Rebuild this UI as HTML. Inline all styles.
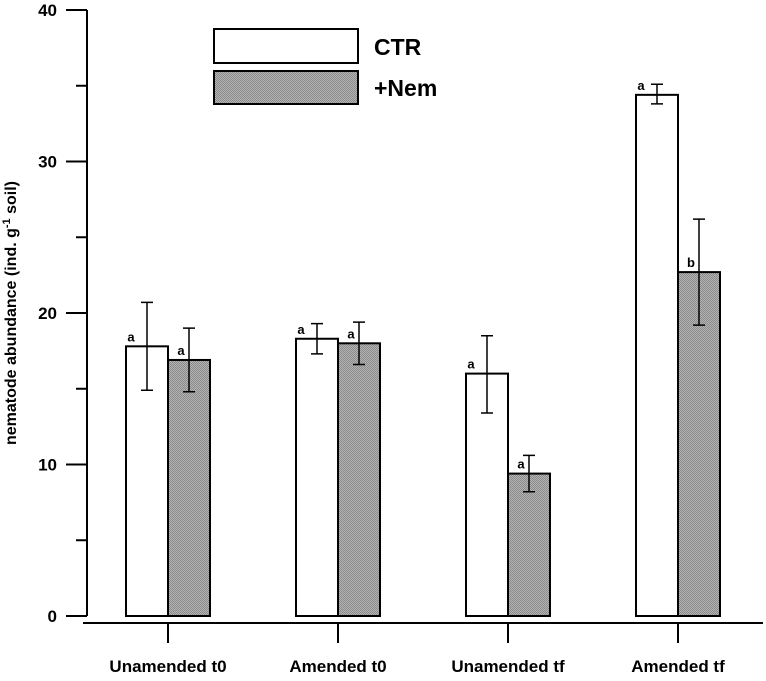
<!DOCTYPE html>
<html><head><meta charset="utf-8"><style>
body{margin:0;background:#fff;}
svg{display:block;font-family:"Liberation Sans",Arial,sans-serif;font-weight:bold;}
</style></head><body>
<svg id="chart" width="766" height="681">
<defs><pattern id="hatch" width="2" height="2" patternUnits="userSpaceOnUse"><rect width="2" height="2" fill="#b4b4b4"/><rect width="1" height="1" fill="#8a8a8a"/><rect x="1" y="1" width="1" height="1" fill="#8a8a8a"/></pattern></defs>
<g id="marks"></g>
</svg>
<script>
const categories=["Unamended t0","Amended t0","Unamended tf","Amended tf"];
const ctrValues=[17.8,18.3,16.0,34.4];
const ctrLow=[14.9,17.3,13.4,33.8];
const ctrHigh=[20.7,19.3,18.5,35.1];
const nemValues=[16.9,18.0,9.4,22.7];
const nemLow=[14.8,16.6,8.2,19.2];
const nemHigh=[19.0,19.4,10.6,26.2];
const ctrLetters=["a","a","a","a"];
const nemLetters=["a","a","a","b"];
const yTicks=[0,10,20,30,40];

const NS="http://www.w3.org/2000/svg";
const g=document.getElementById('marks');
const y0=616,ppu=(616-10)/40,axX=87,BW=42;
function Y(v){return y0-v*ppu;}
function X(i){return 168+i*170;}
function mk(t,a){const e=document.createElementNS(NS,t);for(const k in a)e.setAttribute(k,a[k]);g.appendChild(e);return e;}

let ax=mk('line',{x1:axX,y1:10,x2:axX,y2:y0,stroke:'#000','stroke-width':2});


ax=mk('line',{x1:83,y1:623,x2:763,y2:623,stroke:'#000','stroke-width':2});


yTicks.forEach(t=>{
  let l=mk('line',{x1:66,y1:Y(t),x2:axX,y2:Y(t),stroke:'#000','stroke-width':2});
  
  
  let tx=mk('text',{x:57,y:Y(t)+6,'text-anchor':'end','font-size':17});
  tx.textContent=t;
  
  
});
for(let v=5;v<40;v+=10){let l=mk('line',{x1:76,y1:Y(v),x2:axX,y2:Y(v),stroke:'#000','stroke-width':2});

}
let yt=mk('text',{x:0,y:0,'text-anchor':'middle','font-size':16,transform:'translate(16,313) rotate(-90)'});
yt.innerHTML='nematode abundance (ind. g<tspan dy="-6" font-size="11">-1</tspan><tspan dy="6"> soil)</tspan>';



function bar(x,v,lo,hi,fill,letter,name,off){
  let r=mk('rect',{x:x,y:Y(v),width:BW,height:y0-Y(v),fill:fill,stroke:'#000','stroke-width':2});
  
  
  const cx=x+BW/2;
  let e=mk('path',{d:`M${cx},${Y(hi)}V${Y(lo)}M${cx-6},${Y(hi)}H${cx+6}M${cx-6},${Y(lo)}H${cx+6}`,stroke:'#000','stroke-width':1.5,fill:'none'});
  
  
  let t=mk('text',{x:cx+off,y:Y(v)-5,'text-anchor':'middle','font-size':13});
  t.textContent=letter;
  
  
}
categories.forEach((c,i)=>{
  const cx=X(i);
  bar(cx-BW,ctrValues[i],ctrLow[i],ctrHigh[i],'#fff',ctrLetters[i],'ctr-bar-'+(i+1),-16);
  bar(cx,nemValues[i],nemLow[i],nemHigh[i],'url(#hatch)',nemLetters[i],'nem-bar-'+(i+1),-8);
  let l=mk('line',{x1:cx,y1:623,x2:cx,y2:643,stroke:'#000','stroke-width':2});
  
  
  let t=mk('text',{x:cx,y:672,'text-anchor':'middle','font-size':17});
  t.textContent=c;
  
  
});
let lb=mk('rect',{x:214,y:29,width:144,height:34,fill:'#fff',stroke:'#000','stroke-width':2});


lb=mk('rect',{x:214,y:71,width:144,height:33,fill:'url(#hatch)',stroke:'#000','stroke-width':2});


let lt=mk('text',{x:374,y:55,'font-size':23});lt.textContent='CTR';


lt=mk('text',{x:374,y:96,'font-size':23});lt.textContent='+Nem';


</script>
</body></html>
